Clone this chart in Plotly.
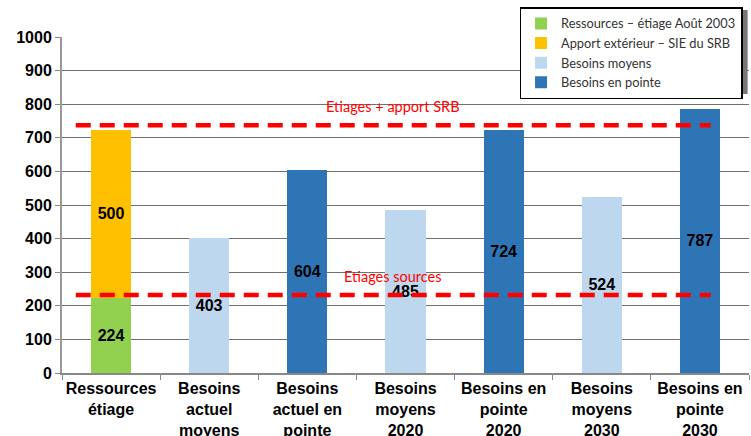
import plotly.graph_objects as go

categories = ["Ressources<br>étiage", "Besoins<br>actuel<br>moyens", "Besoins<br>actuel en<br>pointe",
              "Besoins<br>moyens<br>2020", "Besoins en<br>pointe<br>2020", "Besoins<br>moyens<br>2030",
              "Besoins en<br>pointe<br>2030"]

ressources = [224, None, None, None, None, None, None]
apport = [500, None, None, None, None, None, None]
besoins_moyens = [None, 403, None, 485, None, 524, None]
besoins_pointe = [None, None, 604, None, 724, None, 787]

series_names = ["Ressources – étiage Août 2003", "Apport extérieur – SIE du SRB",
                "Besoins moyens", "Besoins en pointe"]
series_values = [ressources, apport, besoins_moyens, besoins_pointe]
series_colors = ["#92D050", "#FFC000", "#BDD7EE", "#2E75B6"]

line_levels = [232, 737]
line_labels = ["Etiages sources", "Etiages + apport SRB"]
line_label_y = [286, 792]

fig = go.Figure()
for name, vals, col in zip(series_names, series_values, series_colors):
    fig.add_trace(go.Bar(
        x=categories, y=vals, name=name, marker=dict(color=col, line=dict(width=0)),
        width=0.41,
        text=[str(v) if v is not None else "" for v in vals],
        textposition="inside", insidetextanchor="middle",
        textfont=dict(family="Liberation Sans", size=16, color="black", weight="bold"),
        constraintext="none", hoverinfo="skip",
    ))

for lvl in line_levels:
    fig.add_shape(type="line", xref="x", yref="y", x0=-0.36, x1=6.11, y0=lvl, y1=lvl,
                  line=dict(color="#FF0000", width=4.5, dash="15px,9px"), layer="above")

for lab, ly in zip(line_labels, line_label_y):
    fig.add_annotation(x=2.87, y=ly, xref="x", yref="y", text=lab, showarrow=False,
                       font=dict(family="Lato", size=14.5, color="#FF0000"),
                       xanchor="center", yanchor="middle")

# legend shadow
fig.add_shape(type="rect", xref="paper", yref="paper", x0=0.671, x1=0.998, y0=0.83, y1=1.08,
              fillcolor="#777777", line=dict(width=0), layer="above")

fig.update_layout(
    width=751, height=436,
    margin=dict(l=62, r=2, t=37, b=63, autoexpand=False),
    barmode="stack",
    plot_bgcolor="white", paper_bgcolor="white",
    showlegend=True,
    legend=dict(x=0.666, y=1.089, xanchor="left", yanchor="top",
                bgcolor="white", bordercolor="black", borderwidth=1.5,
                font=dict(family="Lato", size=12.8, color="#333333"),
                itemwidth=30, traceorder="normal"),
    xaxis=dict(type="category", tickson="boundaries", ticks="outside", ticklen=5,
               tickcolor="#888888", showline=True, linecolor="#888888", linewidth=2,
               tickangle=0, automargin=False,
               tickfont=dict(family="Liberation Sans", size=16, color="black", weight="bold"),
               showgrid=False, range=[-0.5, 6.5]),
    yaxis=dict(range=[0, 1000], dtick=100, ticks="outside", ticklen=5, tickcolor="#888888",
               showline=True, linecolor="#999999", linewidth=2, automargin=False,
               gridcolor="#707070", gridwidth=1,
               tickfont=dict(family="Liberation Sans", size=16, color="black", weight="bold"),
               zeroline=False),
)

fig.write_html("out.html")
